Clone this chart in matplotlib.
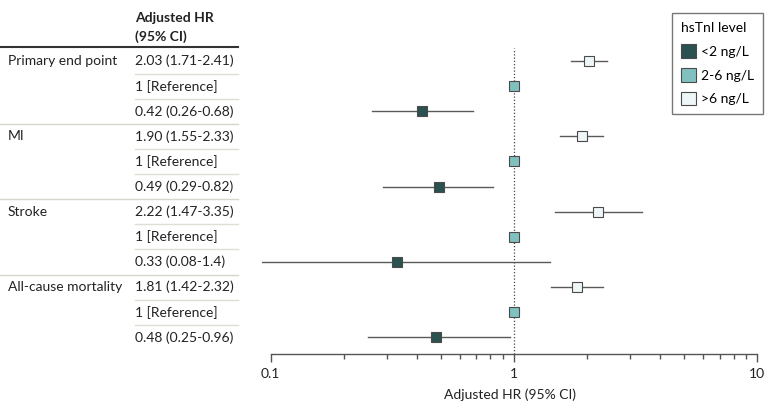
import matplotlib
matplotlib.use("Agg")
import matplotlib.pyplot as plt
from matplotlib.transforms import blended_transform_factory
from matplotlib.patches import Patch
from matplotlib.ticker import LogLocator, FixedLocator, NullFormatter

plt.rcParams['font.family'] = ['Lato', 'DejaVu Sans']

outcomes = ["Primary end point", "MI", "Stroke", "All-cause mortality"]
levels = ["<2 ng/L", "2-6 ng/L", ">6 ng/L"]
# per outcome, rows in order: >6, 2-6 (reference), <2
hr = [[2.03, 1.0, 0.42], [1.90, 1.0, 0.49], [2.22, 1.0, 0.33], [1.81, 1.0, 0.48]]
lo = [[1.71, 1.0, 0.26], [1.55, 1.0, 0.29], [1.47, 1.0, 0.08], [1.42, 1.0, 0.25]]
hi = [[2.41, 1.0, 0.68], [2.33, 1.0, 0.82], [3.35, 1.0, 1.4], [2.32, 1.0, 0.96]]
labels = [["2.03 (1.71-2.41)", "1 [Reference]", "0.42 (0.26-0.68)"],
          ["1.90 (1.55-2.33)", "1 [Reference]", "0.49 (0.29-0.82)"],
          ["2.22 (1.47-3.35)", "1 [Reference]", "0.33 (0.08-1.4)"],
          ["1.81 (1.42-2.32)", "1 [Reference]", "0.48 (0.25-0.96)"]]
row_levels = [">6 ng/L", "2-6 ng/L", "<2 ng/L"]
colors = {"<2 ng/L": "#2a5250", "2-6 ng/L": "#80c1c0", ">6 ng/L": "#eef6f7"}
xticks = [0.1, 1, 10]
xtick_labels = ["0.1", "1", "10"]

W, H = 780, 411
fig = plt.figure(figsize=(W/100, H/100), dpi=100)
left_px, right_px = 261.9, 757.3
top_px, bot_px = 48, 354
ax = fig.add_axes([left_px/W, 1 - bot_px/H, (right_px-left_px)/W, (bot_px-top_px)/H])
ax.set_xscale('log')
ax.set_xlim(0.092, 10)
s = (337.3 - 61) / 11
ax.set_ylim(11 + (bot_px - 337.3)/s, -(61 - top_px)/s)

fs = 10
ax.axvline(1, color="#444444", lw=0.9, ls=(0, (1, 1.6)), zorder=1)

row = 0
for g in range(len(outcomes)):
    for k in range(3):
        lvl = row_levels[k]
        ax.plot([lo[g][k], hi[g][k]], [row, row], color="#5a5a5a", lw=1.0, zorder=2)
        ax.plot([hr[g][k]], [row], marker='s', ms=7.2, mfc=colors[lvl], mec="#4a4a4a",
                mew=0.8, ls='none', zorder=3)
        row += 1

# axes styling
for sp in ['top', 'right', 'left']:
    ax.spines[sp].set_visible(False)
ax.spines['bottom'].set_bounds(0.1, 10)
ax.spines['bottom'].set_color("#555555")
ax.spines['bottom'].set_linewidth(1.0)
ax.set_yticks([])
ax.xaxis.set_major_locator(FixedLocator(xticks))
ax.set_xticklabels(xtick_labels, fontsize=fs, color="#222222")
ax.xaxis.set_minor_locator(LogLocator(base=10, subs=range(2, 10)))
ax.xaxis.set_minor_formatter(NullFormatter())
ax.tick_params(axis='x', which='major', length=6, width=1.0, color="#555555", pad=4)
ax.tick_params(axis='x', which='minor', length=3.5, width=1.0, color="#555555")
ax.set_xlabel("Adjusted HR (95% CI)", fontsize=fs, color="#222222", labelpad=6)

# table on the left
tr = blended_transform_factory(fig.transFigure, ax.transData)
x_out = 8 / W
x_hr = 135 / W
x_end = 238 / W
ax.text(x_hr, -(61 - 18)/s, "Adjusted HR", transform=tr, fontsize=fs, fontweight='bold',
        va='center', ha='left', color="#222222", clip_on=False)
ax.text(x_hr, -(61 - 37)/s, "(95% CI)", transform=tr, fontsize=fs, fontweight='bold',
        va='center', ha='left', color="#222222", clip_on=False)
ax.plot([0, x_end], [-(61 - 47)/s]*2, transform=tr, color="#333333", lw=1.5, clip_on=False)

row = 0
for g in range(len(outcomes)):
    ax.text(x_out, row, outcomes[g], transform=tr, fontsize=fs, va='center', ha='left',
            color="#222222", clip_on=False)
    for k in range(3):
        ax.text(x_hr, row, labels[g][k], transform=tr, fontsize=fs, va='center', ha='left',
                color="#222222", clip_on=False)
        if k < 2:
            ax.plot([x_hr, x_end], [row + 0.5]*2, transform=tr, color="#dcdfd2", lw=1.0,
                    clip_on=False)
        elif g < len(outcomes) - 1:
            ax.plot([0, x_end], [row + 0.5]*2, transform=tr, color="#d4d7cb", lw=1.0,
                    clip_on=False)
        row += 1

handles = [Patch(facecolor=colors[l], edgecolor="#4a4a4a", lw=0.8, label=l) for l in levels]
leg = fig.legend(handles=handles, title="hsTnI level", loc='upper left',
                 bbox_to_anchor=(672/W, 1 - 13/H), borderaxespad=0, fontsize=fs,
                 title_fontsize=fs, frameon=True, fancybox=False, edgecolor="#555555",
                 handlelength=1.1, handleheight=1.1, handletextpad=0.35, labelspacing=0.75,
                 borderpad=0.65, alignment='left')
leg.get_frame().set_linewidth(1.0)

fig.savefig("out.png", dpi=100)
